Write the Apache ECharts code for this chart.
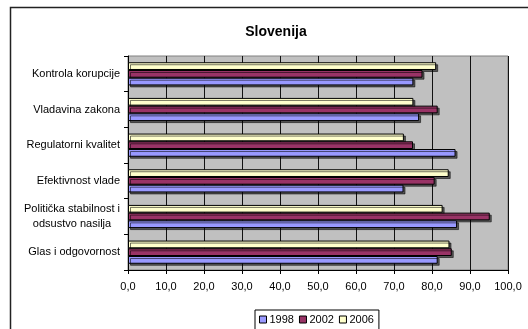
<!DOCTYPE html>
<html><head><meta charset="utf-8">
<script src="https://cdn.jsdelivr.net/npm/echarts@6/dist/echarts.min.js"></script>
<style>html,body{margin:0;padding:0;background:#fff}#c{width:528px;height:329px}</style>
</head><body><div id="c"></div>
<script>
const categories = ['Glas i odgovornost', 'Politička stabilnost i\nodsustvo nasilja', 'Efektivnost vlade', 'Regulatorni kvalitet', 'Vladavina zakona', 'Kontrola korupcije'];
const seriesNames = ['1998', '2002', '2006'];
const v1998 = [81.5, 86.6, 72.5, 86.2, 76.6, 75.1];
const v2002 = [85.2, 95.2, 80.7, 75.0, 81.5, 77.5];
const v2006 = [84.6, 82.8, 84.4, 72.6, 75.1, 81.1];
const colors = ['#9999FF', '#993366', '#FFFFCC'];
const font = 'Liberation Sans, Arial, sans-serif';

const chart = echarts.init(document.getElementById('c'), null, {renderer: 'canvas'});
const mk = (name, data, i) => ({
  name, type: 'bar', data,
  barGap: '0%', barCategoryGap: '35%',
  itemStyle: { color: colors[i], borderColor: '#000', borderWidth: 1,
    shadowColor: 'rgba(0,0,0,0.55)', shadowOffsetX: 2, shadowOffsetY: 2, shadowBlur: 0 },
  emphasis: { disabled: true }, animation: false
});
chart.setOption({
  animation: false,
  title: { text: 'Slovenija', left: 271, textAlign: 'center', top: 20,
    textStyle: { fontFamily: font, fontSize: 14, fontWeight: 'bold', color: '#000' } },
  graphic: [{ type: 'rect', shape: { x: 10.5, y: 7.5, width: 540, height: 340 },
    style: { fill: 'none', stroke: '#222', lineWidth: 1.5 }, silent: true, z: 100 }],
  grid: { left: 128, right: 20, top: 56, bottom: 59, show: true,
    backgroundColor: '#c0c0c0', borderColor: '#808080', borderWidth: 1 },
  xAxis: { type: 'value', min: 0, max: 100, interval: 10,
    axisLine: { show: true, lineStyle: { color: '#000' } },
    axisTick: { show: true, length: 4, lineStyle: { color: '#000' } },
    splitLine: { show: true, lineStyle: { color: '#111', width: 1 } },
    axisLabel: { fontFamily: font, fontSize: 11, color: '#000', margin: 11,
      formatter: v => v.toFixed(1).replace('.', ',') } },
  yAxis: { type: 'category', data: categories,
    axisLine: { show: true, lineStyle: { color: '#000' } },
    axisTick: { show: true, length: 4, lineStyle: { color: '#000' } },
    axisLabel: { fontFamily: font, fontSize: 11, color: '#000', margin: 8, lineHeight: 15,
      formatter: v => v.split('\n').map(s => '{c|' + s + '}').join('\n'),
      rich: { c: { align: 'center', fontFamily: font, fontSize: 11, color: '#000', lineHeight: 15 } } } },
  legend: { data: seriesNames, left: 255, top: 310, orient: 'horizontal',
    itemWidth: 7, itemHeight: 7, itemGap: 5, padding: [4, 5, 10, 4],
    borderColor: '#000', borderWidth: 1, icon: 'rect',
    textStyle: { fontFamily: font, fontSize: 11, color: '#000', padding: [0, 0, 0, -2] },
    itemStyle: { borderColor: '#000', borderWidth: 1, shadowBlur: 0, shadowOffsetX: 0, shadowOffsetY: 0 } },
  series: [mk('2006', v2006, 2), mk('2002', v2002, 1), mk('1998', v1998, 0)]
});
</script></body></html>
